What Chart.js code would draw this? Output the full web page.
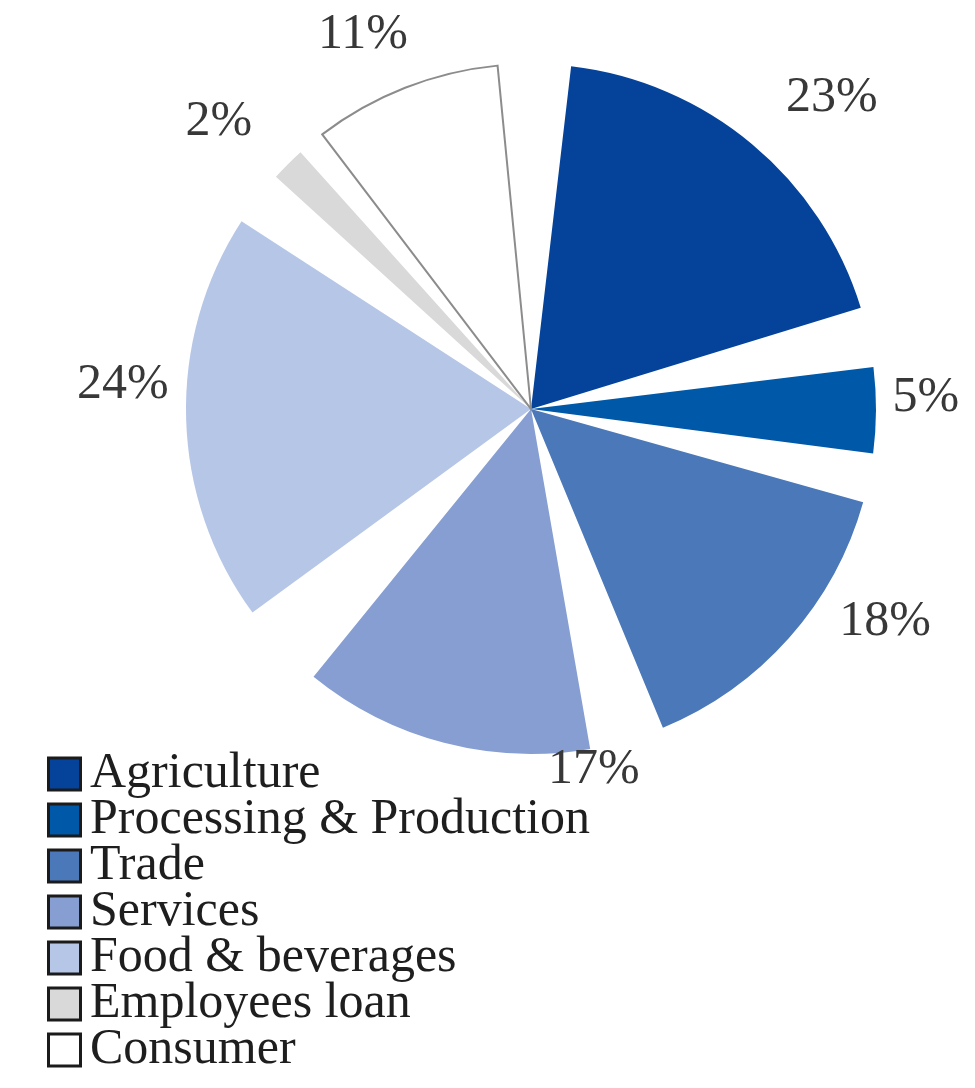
<!DOCTYPE html>
<html>
<head>
<meta charset="utf-8">
<script src="https://cdn.jsdelivr.net/npm/chart.js@4/dist/chart.umd.min.js"></script>
<style>
  html, body { margin: 0; padding: 0; background: #ffffff; overflow: hidden; width: 975px; height: 1088px; }
  #wrap { position: absolute; left: 0; top: -253px; width: 1030px; height: 1341px; }
</style>
</head>
<body>
<div id="wrap"><canvas id="sectorPie" width="1030" height="1341"></canvas></div>
<script>
// Loan portfolio by sector (percent of total)
const sectors = ['Agriculture', 'Processing & Production', 'Trade', 'Services',
                 'Food & beverages', 'Employees loan', 'Consumer'];
const shares = [23, 5, 18, 17, 24, 2, 11];

// Slice styling
const sliceFill = ['#05439a', '#0058a8', '#4a78b9', '#869ed2', '#b6c6e7', '#d9d9d9', '#ffffff'];
const sliceBorder = ['#05439a', '#0058a8', '#4a78b9', '#869ed2', '#b6c6e7', '#d9d9d9', '#8c8c8c'];
const sliceBorderWidth = [0, 0, 0, 0, 0, 0, 2];

// Percentage label placement: [angle shift from slice middle (deg), distance beyond the rim (px)]
const labelPlacement = [[4.2, 88], [-1.8, 50], [-10.6, 68], [-24.5, 21], [5.0, 64], [-2.6, 79], [-2.8, 65]];

const SERIF = '"Liberation Serif", "DejaVu Serif", serif';

// Legend marker: a black-edged square set towards the right of a transparent canvas,
// so the square sits close to its label text
function legendMarker(fill) {
  const c = document.createElement('canvas');
  c.width = 64;
  c.height = 40;
  const g = c.getContext('2d');
  g.fillStyle = fill;
  g.fillRect(27.5, 4, 32, 32);
  g.lineWidth = 3;
  g.strokeStyle = '#1b1b1b';
  g.strokeRect(27.5, 4, 32, 32);
  return c;
}

// Each slice keeps this fraction of its angle, leaving wedge-shaped gaps that meet at the centre
const sliceGaps = {
  id: 'sliceGaps',
  beforeDatasetDraw(chart, args, opts) {
    args.meta.data.forEach(arc => {
      const mid = (arc.startAngle + arc.endAngle) / 2;
      const half = (arc.endAngle - arc.startAngle) / 2 * opts.keep;
      arc.$full = [arc.startAngle, arc.endAngle, arc.circumference];
      arc.startAngle = mid - half;
      arc.endAngle = mid + half;
      arc.circumference = 2 * half;
    });
  },
  afterDatasetDraw(chart, args) {
    args.meta.data.forEach(arc => {
      if (arc.$full) {
        [arc.startAngle, arc.endAngle, arc.circumference] = arc.$full;
        delete arc.$full;
      }
    });
  }
};

// Percentage labels around the pie
const shareLabels = {
  id: 'shareLabels',
  afterDatasetsDraw(chart) {
    const ctx = chart.ctx;
    const meta = chart.getDatasetMeta(0);
    ctx.save();
    ctx.font = '50px ' + SERIF;
    ctx.fillStyle = '#383838';
    ctx.textAlign = 'center';
    ctx.textBaseline = 'middle';
    meta.data.forEach((arc, i) => {
      const [shift, extra] = labelPlacement[i];
      const a = (arc.startAngle + arc.endAngle) / 2 + shift * Math.PI / 180;
      const r = arc.outerRadius + extra;
      ctx.fillText(shares[i] + '%', arc.x + Math.cos(a) * r, arc.y + Math.sin(a) * r);
    });
    ctx.restore();
  }
};

new Chart(document.getElementById('sectorPie'), {
  type: 'pie',
  data: {
    labels: sectors,
    datasets: [{
      data: shares,
      backgroundColor: sliceFill,
      borderColor: sliceBorder,
      borderWidth: sliceBorderWidth,
      borderJoinStyle: 'miter',
      radius: 345,
      rotation: -1.6
    }]
  },
  options: {
    responsive: false,
    animation: false,
    events: [],
    layout: { padding: { left: 45, right: 13, top: 0, bottom: 17 } },
    plugins: {
      sliceGaps: { keep: 0.8 },
      tooltip: { enabled: false },
      legend: {
        position: 'chartArea',
        align: 'end',
        labels: {
          usePointStyle: true,
          boxWidth: 24,
          boxHeight: 34,
          padding: -4,
          color: '#1e1e1e',
          font: { family: SERIF, size: 50 },
          generateLabels(chart) {
            const items = Chart.overrides.doughnut.plugins.legend.labels.generateLabels(chart);
            return items.map((item, i) => Object.assign(item, {
              pointStyle: legendMarker(sliceFill[i]),
              lineWidth: 0
            }));
          }
        }
      }
    }
  },
  plugins: [sliceGaps, shareLabels]
});
</script>
</body>
</html>
